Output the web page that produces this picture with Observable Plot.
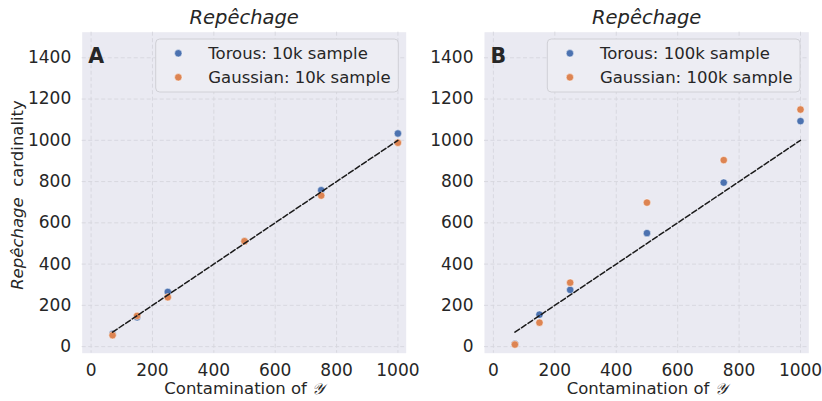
<!DOCTYPE html>
<html>
<head>
<meta charset="utf-8">
<script src="https://cdn.jsdelivr.net/npm/d3@7"></script>
<script src="https://cdn.jsdelivr.net/npm/@observablehq/plot@0.6"></script>
<style>
  body { margin: 0; background: #ffffff; }
  #wrap { position: relative; width: 822px; height: 401px; font-family: "DejaVu Sans", sans-serif; }
  .panel { position: absolute; top: 0; }
  .panel svg { overflow: visible; }
</style>
</head>
<body>
<div id="wrap">
  <div class="panel" id="pA" style="left:0px"></div>
  <div class="panel" id="pB" style="left:411px"></div>
</div>
<script>
// ---- data ----
const xTicks = [0, 200, 400, 600, 800, 1000];
const yTicks = [0, 200, 400, 600, 800, 1000, 1200, 1400];
const contamination = [70, 150, 250, 500, 750, 1000];
const torous10k = [61, 142, 265, 511, 758, 1033];
const gaussian10k = [55, 149, 239, 511, 732, 988];
const torous100k = [13, 155, 275, 550, 795, 1093];
const gaussian100k = [10, 116, 310, 698, 904, 1149];
const refLineX = [70, 1000];
const panelTitles = ["Repêchage", "Repêchage"];
const panelLetters = ["A", "B"];
const legendA = ["Torous: 10k sample", "Gaussian: 10k sample"];
const legendB = ["Torous: 100k sample", "Gaussian: 100k sample"];
const xLabel = "Contamination of ";
const xLabelSym = "𝒴";

const BLUE = "#4C72B0", ORANGE = "#DD8452", INK = "#262626";

function makePanel(el, opts) {
  const {torous, gaussian, title, letter, legend, marginLeft, marginRight, yLabel, legendX, legendW} = opts;
  const W = 411, H = 401, mt = 31.7, mb = 48.3;
  const tData = contamination.map((c, i) => ({x: c, y: torous[i]}));
  const gData = contamination.map((c, i) => ({x: c, y: gaussian[i]}));
  const lData = refLineX.map(v => ({x: v, y: v}));
  const chart = Plot.plot({
    width: W, height: H,
    marginLeft, marginRight, marginTop: mt, marginBottom: mb,
    style: {background: "transparent", fontFamily: "DejaVu Sans, sans-serif", fontSize: "17px", color: INK, overflow: "visible"},
    x: {domain: [-29, 1027], label: null},
    y: {domain: [-32, 1524], label: null},
    marks: [
      Plot.frame({fill: "#EAEAF2", stroke: null}),
      Plot.gridX(xTicks, {stroke: "#d6d6de", strokeOpacity: 1, strokeWidth: 0.9, strokeDasharray: "4,2.5"}),
      Plot.gridY(yTicks, {stroke: "#d6d6de", strokeOpacity: 1, strokeWidth: 0.9, strokeDasharray: "4,2.5"}),
      Plot.axisX(xTicks, {tickSize: 0, tickPadding: 11, label: null, fontSize: 17, fill: INK, tickFormat: d => String(d)}),
      Plot.axisY(yTicks, {tickSize: 0, tickPadding: 11, label: null, fontSize: 17, fill: INK, tickFormat: d => String(d)}),
      Plot.dot(tData, {x: "x", y: "y", r: 3.7, fill: BLUE, stroke: "white", strokeWidth: 0.5}),
      Plot.dot(gData, {x: "x", y: "y", r: 3.7, fill: ORANGE, stroke: "white", strokeWidth: 0.5}),
      Plot.line(lData, {x: "x", y: "y", stroke: "#1a1a1a", strokeWidth: 1.5, strokeDasharray: "5.5,2.4"}),
      Plot.text([title], {frameAnchor: "top", lineAnchor: "bottom", dy: -8.5, fontSize: 19.5, fontStyle: "italic", fill: INK}),
      Plot.text([xLabel], {frameAnchor: "bottom", lineAnchor: "top", dy: 29, fontSize: 16.5, fill: INK})
    ]
  });
  el.appendChild(chart);
  const svg = d3.select(chart);
  const lbl = svg.selectAll("text").filter(function() { return this.textContent === xLabel; });
  lbl.each(function() {
    const t = d3.select(this);
    t.text(null);
    t.append("tspan").text(xLabel.trimEnd() + "\u00a0");
    t.append("tspan").attr("font-style", "italic").attr("font-size", 15.5).text(xLabelSym);
  });
  // panel letter
  svg.append("text").attr("x", marginLeft + 6.5).attr("y", mt + 31.5).attr("text-anchor", "start")
    .attr("font-family", "DejaVu Sans").attr("font-weight", "bold").attr("font-size", 20.5)
    .attr("fill", INK).text(letter);
  // legend
  const g = svg.append("g").attr("font-family", "DejaVu Sans").attr("font-size", 16.5).attr("text-anchor", "start");
  g.append("rect").attr("x", legendX).attr("y", mt + 7.3).attr("width", legendW).attr("height", 53)
    .attr("rx", 4).attr("fill", "#EDEDF3").attr("stroke", "#d0d0d6").attr("stroke-width", 1);
  [BLUE, ORANGE].forEach((c, i) => {
    const yy = mt + 21.6 + i * 24;
    g.append("circle").attr("cx", legendX + 22.6).attr("cy", yy).attr("r", 3.7).attr("fill", c).attr("stroke", "white").attr("stroke-width", 0.5);
    g.append("text").attr("x", legendX + 52.6).attr("y", yy).attr("dy", "0.36em").attr("text-anchor", "start").attr("fill", INK).text(legend[i]);
  });
  if (yLabel) {
    const t = svg.append("text").attr("transform", "translate(23,195) rotate(-90)")
      .attr("text-anchor", "middle").attr("font-family", "DejaVu Sans").attr("font-size", 16.5).attr("fill", INK);
    t.append("tspan").attr("font-style", "italic").text("Repêchage");
    t.append("tspan").text("\u00a0\u00a0cardinality");
  }
}

makePanel(document.getElementById("pA"), {
  torous: torous10k, gaussian: gaussian10k, title: panelTitles[0], letter: panelLetters[0],
  legend: legendA, marginLeft: 81.7, marginRight: 5.3, yLabel: true, legendX: 155.7, legendW: 242.6
});
makePanel(document.getElementById("pB"), {
  torous: torous100k, gaussian: gaussian100k, title: panelTitles[1], letter: panelLetters[1],
  legend: legendB, marginLeft: 73, marginRight: 13.7, yLabel: false, legendX: 136.3, legendW: 252.7
});
</script>
</body>
</html>
